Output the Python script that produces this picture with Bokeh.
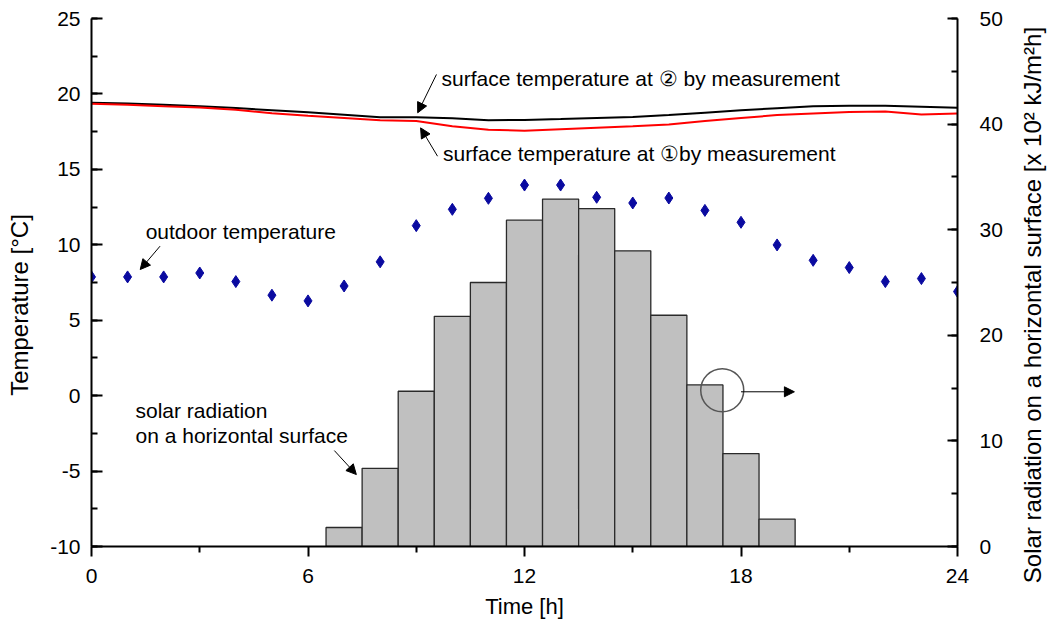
import math
from bokeh.plotting import figure
from bokeh.layouts import row
from bokeh.models import (Range1d, LinearAxis, SingleIntervalTicker, FixedTicker,
                          Arrow, NormalHead, Label, PrintfTickFormatter)
from bokeh.embed import file_html
from bokeh.resources import INLINE

FONT = "Liberation Sans"

# ---------------- data ----------------
hours = list(range(25))
outdoor_temp = [7.87, 7.87, 7.87, 8.13, 7.56, 6.66, 6.28, 7.27, 8.87, 11.27, 12.35, 13.08,
                13.96, 13.96, 13.15, 12.77, 13.10, 12.28, 11.49, 9.99, 8.97, 8.49, 7.56, 7.76, 6.90]
surf_temp_2 = [19.42, 19.36, 19.28, 19.18, 19.06, 18.92, 18.78, 18.62, 18.45, 18.46, 18.38, 18.26,
               18.27, 18.33, 18.40, 18.47, 18.60, 18.76, 18.92, 19.05, 19.18, 19.22, 19.22, 19.15, 19.08]
surf_temp_1 = [19.35, 19.28, 19.18, 19.10, 18.95, 18.72, 18.55, 18.40, 18.25, 18.20, 17.85, 17.62,
               17.56, 17.66, 17.76, 17.86, 17.98, 18.20, 18.40, 18.60, 18.70, 18.80, 18.84, 18.64, 18.70]
rad_hours = [7, 8, 9, 10, 11, 12, 13, 14, 15, 16, 17, 18, 19]
solar_rad = [1.8, 7.4, 14.7, 21.8, 25.0, 30.9, 32.9, 32.0, 28.0, 21.9, 15.3, 8.8, 2.6]

x_ticks = [0, 6, 12, 18, 24]
x_minor = [3, 9, 15, 21]

TOP, FRAME_H, BOTTOM = 18, 528, 82
Y_RANGE = (-10, 25)

# ---------------- main figure ----------------
p = figure(frame_width=866, frame_height=FRAME_H,
           x_range=Range1d(0, 24), y_range=Range1d(*Y_RANGE),
           output_backend="svg", toolbar_location=None,
           min_border_left=44, min_border_right=50, min_border_top=TOP, min_border_bottom=BOTTOM)
p.extra_y_ranges = {"rad": Range1d(0, 50)}
p.outline_line_color = None
p.xgrid.visible = False
p.ygrid.visible = False


def style_axis(ax, tick_in, tick_out, minor_in, minor_out, standoff, label_size):
    ax.axis_line_width = 2
    ax.axis_line_color = "black"
    ax.major_tick_line_width = 2
    ax.minor_tick_line_width = 2
    ax.major_tick_line_color = "black"
    ax.minor_tick_line_color = "black"
    ax.major_tick_in = tick_in
    ax.major_tick_out = tick_out
    ax.minor_tick_in = minor_in
    ax.minor_tick_out = minor_out
    ax.major_label_standoff = standoff
    ax.major_label_text_font = FONT
    ax.major_label_text_font_size = "21px"
    ax.major_label_text_color = "black"
    ax.axis_label_text_font = FONT
    ax.axis_label_text_font_size = label_size
    ax.axis_label_text_font_style = "normal"
    ax.axis_label_text_color = "black"
    ax.formatter = PrintfTickFormatter(format="%d")


xa = p.xaxis[0]
xa.ticker = FixedTicker(ticks=x_ticks, minor_ticks=x_minor)
style_axis(xa, 0, 10, 0, 6, 12, "22px")
xa.axis_label = "Time [h]"
xa.axis_label_standoff = 8

ya = p.yaxis[0]
ya.ticker = SingleIntervalTicker(interval=5, num_minor_ticks=2)
style_axis(ya, 11, 0, 6, 0, 11, "24px")

ra = LinearAxis(y_range_name="rad", ticker=SingleIntervalTicker(interval=10, num_minor_ticks=2))
style_axis(ra, 10, 0, 6, 0, 22, "24px")
p.add_layout(ra, "right")

p.vbar(x=rad_hours, top=solar_rad, bottom=0, width=1.0, y_range_name="rad",
       fill_color="#c0c0c0", line_color="#2a2a2a", line_width=1.3)
p.line(hours, surf_temp_2, line_color="black", line_width=2)
p.line(hours, surf_temp_1, line_color="#ff0000", line_width=2)
p.scatter(hours, outdoor_temp, marker="diamond", size=12, fill_color="#0a0aa0",
          line_color="#0a0aa0")


def label(fig, x, y, text, size="21px", angle=0.0, align="left"):
    fig.add_layout(Label(x=x, y=y, text=text, text_font=FONT, text_font_size=size,
                         angle=angle, text_baseline="middle", text_align=align,
                         text_color="black"))


def arrow(x0, y0, x1, y1, y_range_name="default"):
    p.add_layout(Arrow(x_start=x0, y_start=y0, x_end=x1, y_end=y1, line_width=1,
                       line_color="black", y_range_name=y_range_name,
                       end=NormalHead(size=10, fill_color="black", line_color="black")))


label(p, 9.70, 21.02, "surface temperature at ② by measurement")
arrow(9.56, 21.29, 9.04, 18.75)
label(p, 9.74, 16.05, "surface temperature at ①by measurement")
arrow(9.59, 15.87, 9.12, 17.75)
label(p, 1.50, 10.90, "outdoor temperature")
arrow(1.90, 9.91, 1.35, 8.36)
label(p, 1.22, -0.96, "solar radiation")
label(p, 1.22, -2.64, "on a horizontal surface")
arrow(6.73, -3.64, 7.34, -5.23)

i17 = rad_hours.index(17)
cx = rad_hours[i17] + 0.48
cy = solar_rad[i17] - 0.5
p.scatter([cx], [cy], marker="circle", size=43, fill_color=None, line_color="#555555",
          line_width=1.5, y_range_name="rad")
arrow(cx + 0.52, cy - 0.15, cx + 2.0, cy - 0.15, y_range_name="rad")


# ---------------- side strips holding the rotated axis titles ----------------
UNITS_PER_PX = (Y_RANGE[1] - Y_RANGE[0]) / FRAME_H
STRIP_RANGE = (Y_RANGE[0] - BOTTOM * UNITS_PER_PX, Y_RANGE[1] + TOP * UNITS_PER_PX)


def side_strip(width):
    f = figure(frame_width=width, frame_height=TOP + FRAME_H + BOTTOM,
               x_range=Range1d(0, width), y_range=Range1d(*STRIP_RANGE),
               output_backend="svg", toolbar_location=None,
               x_axis_location=None, y_axis_location=None, min_border=0)
    f.outline_line_color = None
    f.xgrid.visible = False
    f.ygrid.visible = False
    return f


TITLE_Y = 7.2  # vertical centre of both rotated titles
pl = side_strip(47)
label(pl, 19, TITLE_Y, "Temperature [°C]", size="24px", angle=math.pi / 2, align="center")
pr = side_strip(40)
label(pr, 25, TITLE_Y, "Solar radiation on a horizontal surface [x 10² kJ/m²h]",
      size="24px", angle=math.pi / 2, align="center")

layout = row(pl, p, pr, spacing=0)
open("out.html", "w").write(file_html(layout, INLINE))
